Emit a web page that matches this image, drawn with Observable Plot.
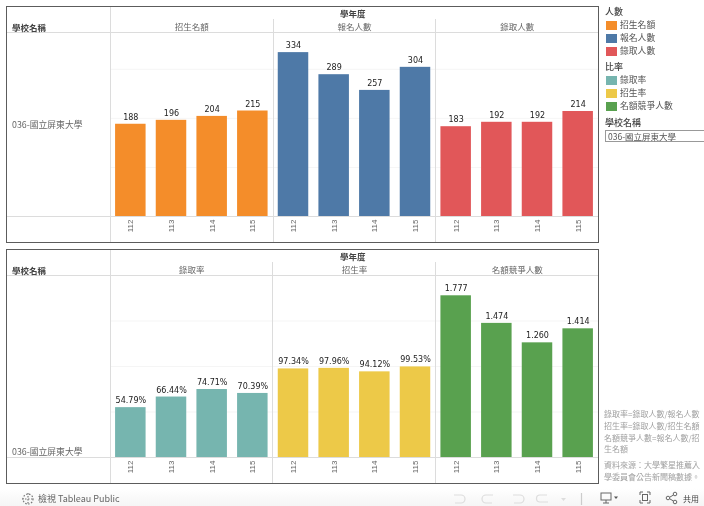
<!DOCTYPE html>
<html><head><meta charset="utf-8">
<script src="https://cdn.jsdelivr.net/npm/d3@7"></script>
<script src="https://cdn.jsdelivr.net/npm/@observablehq/plot@0.6"></script>
<style>
html,body{margin:0;padding:0;background:#fff;overflow:hidden}
#page{position:relative;width:704px;height:506px;overflow:hidden;font-family:"Noto Sans CJK TC","Noto Sans",sans-serif;color:#555;filter:blur(.45px)}
.a{position:absolute;white-space:nowrap;line-height:1}
.frame{position:absolute;border:1.5px solid #5c5c5c;box-sizing:border-box;pointer-events:none}
.h{position:absolute;height:1px;background:#dcdcdc}
.v{position:absolute;width:1px;background:#dcdcdc}
.sw{position:absolute;width:11px;height:9px}
.plot{position:absolute}
</style></head><body>
<div id="page"></div>
<script>
const years = ["112","113","114","115"];
const headTop = ["招生名額","報名人數","錄取人數"];
const headBottom = ["錄取率","招生率","名額競爭人數"];
const quota = [188,196,204,215];
const applicants = [334,289,257,304];
const admitted = [183,192,192,214];
const admitRate = [0.5479,0.6644,0.7471,0.7039];
const enrollRate = [0.9734,0.9796,0.9412,0.9953];
const competition = [1.777,1.474,1.260,1.414];
const colorsTop = ["#f48d2a","#4e79a7","#e15759"];
const colorsBottom = ["#76b5af","#edc948","#59a14f"];
const school = "036-國立屏東大學";
const schoolHead = "學校名稱";
const yearHead = "學年度";
const legendTop = "人數";
const legendBottom = "比率";
const notes = ["錄取率=錄取人數/報名人數","招生率=錄取人數/招生名額","名額競爭人數=報名人數/招","生名額"];
const sources = ["資料來源：大學繁星推薦入","學委員會公告新聞稿數據。"];

const page = document.getElementById("page");
function tidy(names, series, fmts){
  return names.flatMap((m,i)=>years.map((y,j)=>({metric:m,year:y,value:series[i][j],label:fmts[i](series[i][j])})));
}
function panel({names,series,fmts,colors,yMax,grid,top,height}){
  const data = tidy(names,series,fmts);
  const svg = Plot.plot({
    width:591,height,marginLeft:103,marginRight:0,marginTop:26,marginBottom:26,
    style:{background:"transparent",overflow:"visible"},
    x:{domain:years,paddingInner:.25,paddingOuter:.125,round:false,axis:null},
    fx:{domain:names,padding:0,round:false,axis:null},
    y:{domain:[0,yMax],axis:null},
    color:{domain:names,range:colors},
    marks:[
      Plot.gridY(grid,{stroke:"#000",strokeOpacity:.04}),
      Plot.barY(data,{fx:"metric",x:"year",y:"value",fill:"metric"}),
      Plot.text(data,{fx:"metric",x:"year",y:"value",text:"label",dy:-7,fontSize:8,fill:"#222",fontFamily:"DejaVu Sans"}),
      Plot.axisX({anchor:"bottom",tickSize:0,tickPadding:3,tickRotate:-90,label:null,fontSize:8,fill:"#666",fontFamily:"Liberation Sans"}),
      Plot.axisFx({anchor:"top",tickSize:0,tickPadding:3,label:null,fontSize:8.5,fill:"#666",fontFamily:"Noto Sans CJK TC"})
    ]
  });
  svg.classList.add("plot");
  svg.style.left="7px"; svg.style.top=top+"px";
  page.appendChild(svg);
}
const fInt = d3.format("d"), fPct = d3.format(".2%"), fNum = d3.format(".3f");
panel({names:headTop,series:[quota,applicants,admitted],fmts:[fInt,fInt,fInt],colors:colorsTop,yMax:375,grid:[100,200,300],top:6,height:236});
panel({names:headBottom,series:[admitRate,enrollRate,competition],fmts:[fPct,fPct,fNum],colors:colorsBottom,yMax:2,grid:[0.5,1,1.5],top:249,height:234});

function el(cls,css,txt){const d=document.createElement("div");d.className=cls;d.style.cssText=css;if(txt!=null)d.textContent=txt;page.appendChild(d);return d;}
// panel furniture
[[6,242,32,216,19,110,273,435],[249,483,275,457,262,110,272,435]].forEach(([t,b,h,base,dt,v0,v1,v2])=>{
  el("h",`left:7px;width:591px;top:${h}px`);
  el("h",`left:7px;width:591px;top:${base}px`);
  el("v",`left:${v0}px;top:${t}px;height:${b-t}px`);
  el("v",`left:${v1}px;top:${dt}px;height:${b-dt}px`);
  el("v",`left:${v2}px;top:${dt}px;height:${b-dt}px`);
  el("frame",`left:6px;top:${t}px;width:593px;height:${b-t+1}px`);
  el("a",`left:12px;top:${h-9.5}px;font-size:8.5px;font-weight:700;color:#444`,schoolHead);
  el("a",`left:340px;top:${t+3}px;font-size:8.5px;font-weight:700;color:#444`,yearHead);
});
el("a","left:12px;top:120.5px;font-size:8.8px;color:#666",school);
el("a","left:12px;top:447.5px;font-size:8.8px;color:#666",school);

// legend
function legend(title,y,names,colors){
  el("a",`left:605px;top:${y-5}px;font-size:9px;color:#444;font-weight:500`,title);
  names.forEach((n,i)=>{
    const cy=y+13.5+i*13;
    el("sw",`left:606px;top:${cy-4.5}px;background:${colors[i]}`);
    el("a",`left:620px;top:${cy-4.5}px;font-size:8.8px;color:#555`,n);
  });
}
legend(legendTop,12,headTop,colorsTop);
legend(legendBottom,67,headBottom,colorsBottom);
el("a","left:605px;top:118px;font-size:9px;color:#444;font-weight:500",schoolHead);
el("a","left:605px;top:130px;width:110px;height:12px;border:1px solid #999;box-sizing:border-box");
el("a","left:608px;top:132px;font-size:8.5px;color:#555",school);

// notes
notes.forEach((n,i)=>el("a",`left:604px;top:${[410,422,434,445][i]}px;font-size:8px;color:#a0a0a0`,n));
sources.forEach((n,i)=>el("a",`left:604px;top:${[461,473][i]}px;font-size:8px;color:#a0a0a0`,n));

// toolbar
el("a","left:0;top:488px;width:704px;height:18px;background:linear-gradient(#fff,#f5f5f5)");
el("a","left:38px;top:494px;font-size:9px;color:#666;font-family:'Noto Sans CJK TC'","檢視 Tableau Public");
el("a","left:683px;top:495px;font-size:8px;color:#444","共用");
const tb=document.createElementNS("http://www.w3.org/2000/svg","svg");
tb.setAttribute("width",704);tb.setAttribute("height",18);
tb.style.cssText="position:absolute;left:0;top:488px";
tb.innerHTML=`<g fill="none" stroke="#ddd" stroke-width="1.2">
<path d="M454 7h7a4 4 0 0 1 0 8h-6"/><path d="M493 7h-7a4 4 0 0 0 0 8h6"/>
<path d="M513 7h7a4 4 0 0 1 0 8h-6"/><path d="M547 7h-7a3 3 0 0 0 0 7h8"/>
<path d="M581.5 5v12" stroke="#ccc"/></g>
<path d="M561 10l2.5 3 2.5-3z" fill="#ddd"/>
<g fill="none" stroke="#666" stroke-width="1">
<rect x="601" y="5" width="10" height="7"/><path d="M606 12v3M603 15h6"/>
<path d="M640 7V4h3M647 4h3v3M650 12v3h-3M643 15h-3v-3"/><rect x="642.5" y="6.5" width="5" height="6"/>
<circle cx="668" cy="10" r="1.8"/><circle cx="675" cy="6" r="1.8"/><circle cx="675" cy="14" r="1.8"/><path d="M670 9l3.5-2M670 11l3.5 2"/>
</g><path d="M614 8.5l2 2.5 2-2.5z" fill="#555"/>
<g stroke="#777" stroke-width="1.2" stroke-dasharray="1.5 1.5" fill="none"><circle cx="28" cy="11" r="5"/><path d="M22 11h12M28 5v12"/></g>`;
page.appendChild(tb);
</script></body></html>
